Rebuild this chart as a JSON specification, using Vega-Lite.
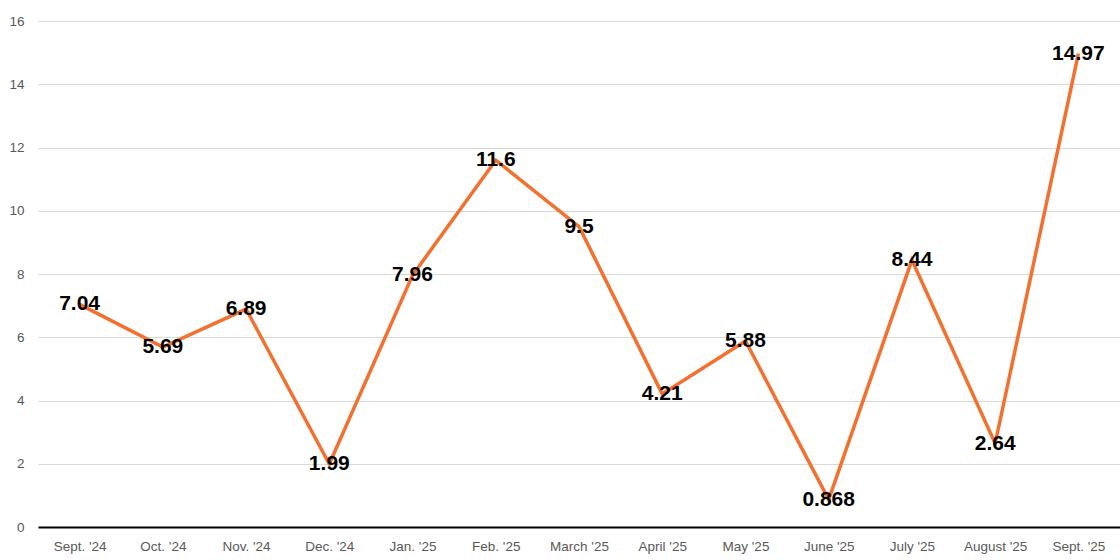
{
  "$schema": "https://vega.github.io/schema/vega-lite/v6.json",
  "width": 1082,
  "height": 506,
  "autosize": "none",
  "padding": {"left": 38, "top": 21, "right": 0, "bottom": 33},
  "background": "white",
  "config": {
    "view": {"stroke": null},
    "font": "Liberation Sans"
  },
  "data": {
    "values": [
      {"month": "Sept. '24", "value": 7.04, "label": "7.04"},
      {"month": "Oct. '24", "value": 5.69, "label": "5.69"},
      {"month": "Nov. '24", "value": 6.89, "label": "6.89"},
      {"month": "Dec. '24", "value": 1.99, "label": "1.99"},
      {"month": "Jan. '25", "value": 7.96, "label": "7.96"},
      {"month": "Feb. '25", "value": 11.6, "label": "11.6"},
      {"month": "March '25", "value": 9.5, "label": "9.5"},
      {"month": "April '25", "value": 4.21, "label": "4.21"},
      {"month": "May '25", "value": 5.88, "label": "5.88"},
      {"month": "June '25", "value": 0.868, "label": "0.868"},
      {"month": "July '25", "value": 8.44, "label": "8.44"},
      {"month": "August '25", "value": 2.64, "label": "2.64"},
      {"month": "Sept. '25", "value": 14.97, "label": "14.97"}
    ]
  },
  "encoding": {
    "x": {
      "field": "month",
      "type": "ordinal",
      "sort": null,
      "scale": {"type": "point", "padding": 0.5},
      "axis": {
        "title": null,
        "labelAngle": 0,
        "labelFontSize": 13.5,
        "labelColor": "#595959",
        "labelPadding": 12,
        "ticks": false,
        "domainColor": "#000000",
        "domainWidth": 2,
        "grid": false
      }
    },
    "y": {
      "field": "value",
      "type": "quantitative",
      "scale": {"domain": [0, 16], "nice": false},
      "axis": {
        "title": null,
        "values": [0, 2, 4, 6, 8, 10, 12, 14, 16],
        "labelFontSize": 13.5,
        "labelColor": "#595959",
        "labelPadding": 14,
        "ticks": false,
        "domain": false,
        "grid": true,
        "gridColor": "#d9d9d9",
        "gridWidth": 1
      }
    }
  },
  "layer": [
    {
      "mark": {"type": "line", "color": "#F4702E", "strokeWidth": 3.5}
    },
    {
      "mark": {
        "type": "text",
        "fontSize": 21,
        "fontWeight": "bold",
        "color": "#000000",
        "baseline": "middle",
        "align": "center"
      },
      "encoding": {"text": {"field": "label"}}
    }
  ]
}
